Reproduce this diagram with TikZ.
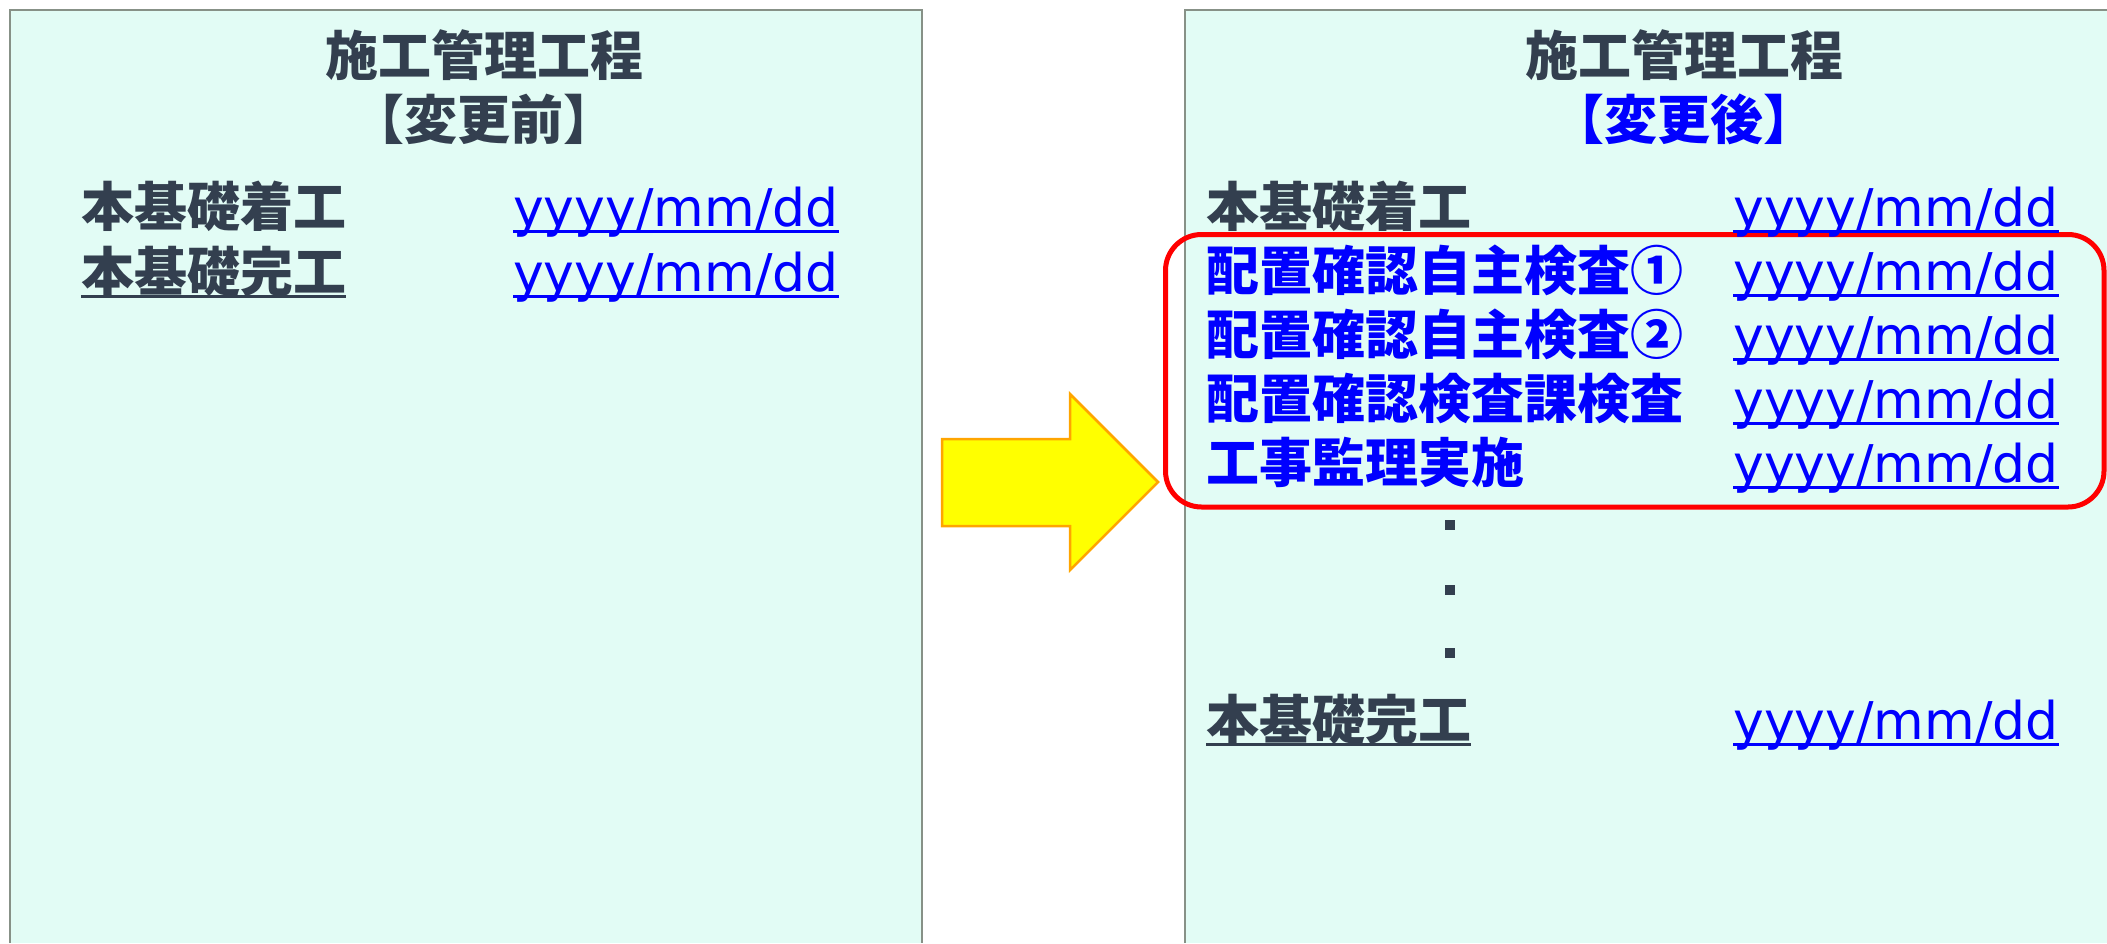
\documentclass[tikz,border=0pt]{standalone}
\usepackage{fontspec}
\setmainfont{DejaVu Sans}
\newfontfamily\jpfont{Noto Sans CJK JP}
\definecolor{panelfill}{RGB}{226,252,245}
\definecolor{panelline}{RGB}{135,145,135}
\definecolor{inkgray}{RGB}{51,63,79}
\definecolor{linkblue}{RGB}{0,0,255}
\definecolor{arrowfill}{RGB}{255,255,0}
\definecolor{arrowline}{RGB}{255,165,0}
\newcommand\lineunder[2]{\draw[uline,#2] ([yshift=-5pt]#1.base west) -- ([yshift=-5pt]#1.base east);}

\begin{document}
\begin{tikzpicture}[x=1pt,y=-1pt,
  jp/.style={font=\jpfont\bfseries\fontsize{53}{60}\selectfont,inner sep=0pt,anchor=base west,text=inkgray},
  hd/.style={jp,anchor=base},
  day/.style={font=\fontsize{52}{60}\selectfont,inner sep=0pt,anchor=base west,text=linkblue},
  uline/.style={line width=3pt}]
  \useasboundingbox (0,0) rectangle (2107,943);
  % panels
  \fill[panelfill] (10,10) rectangle (922,943);
  \draw[panelline,line width=2.5pt] (10,943)--(10,10)--(922,10)--(922,943);
  \fill[panelfill] (1185,10) rectangle (2107,943);
  \draw[panelline,line width=2.5pt] (1185,943)--(1185,10)--(2107,10);
  % arrow
  \filldraw[fill=arrowfill,draw=arrowline,line width=2.5pt] (942,439)--(1070,439)--(1070,394)--(1158,482)--(1070,570)--(1070,526)--(942,526)--cycle;
  % changed part
  \draw[red,line width=5pt,rounded corners=36pt] (1165.5,234.5) rectangle (2104,507);

  % before
  \node[hd] (titleL) at (484,75) {施工管理工程};
  \node[hd] (stateL) at (484,139) {【変更前】};
  \node[jp] (startL) at (81,226) {本基礎着工};
  \node[day] (startLd) at (513,226) {yyyy/mm/dd};
  \node[jp] (endL) at (81,291) {本基礎完工};
  \node[day] (endLd) at (513,291) {yyyy/mm/dd};
  \lineunder{startLd}{linkblue}
  \lineunder{endL}{inkgray}
  \lineunder{endLd}{linkblue}

  % after
  \node[hd] (titleR) at (1684,75) {施工管理工程};
  \node[hd,text=linkblue] (stateR) at (1684,139) {【変更後】};
  \node[jp] (startR) at (1206,226) {本基礎着工};
  \node[day] (startRd) at (1733,226) {yyyy/mm/dd};
  \lineunder{startRd}{linkblue}
  \foreach \name/\txt [count=\i] in {chkA/配置確認自主検査①,chkB/配置確認自主検査②,chkC/配置確認検査課検査,kanri/工事監理実施}{
    \node[jp,text=linkblue] (\name) at (1206,226+64.2*\i) {\txt};
    \node[day] (\name d) at (1733,226+64.2*\i) {yyyy/mm/dd};
    \lineunder{\name d}{linkblue}
  }
  \foreach \y/\name in {525/dotA,589.5/dotB,653/dotC}
    \node[fill=inkgray,inner sep=0pt,minimum size=10pt] (\name) at (1450,\y) {};
  \node[jp] (endR) at (1206,739) {本基礎完工};
  \node[day] (endRd) at (1733,739) {yyyy/mm/dd};
  \lineunder{endR}{inkgray}
  \lineunder{endRd}{linkblue}
\end{tikzpicture}
\end{document}
